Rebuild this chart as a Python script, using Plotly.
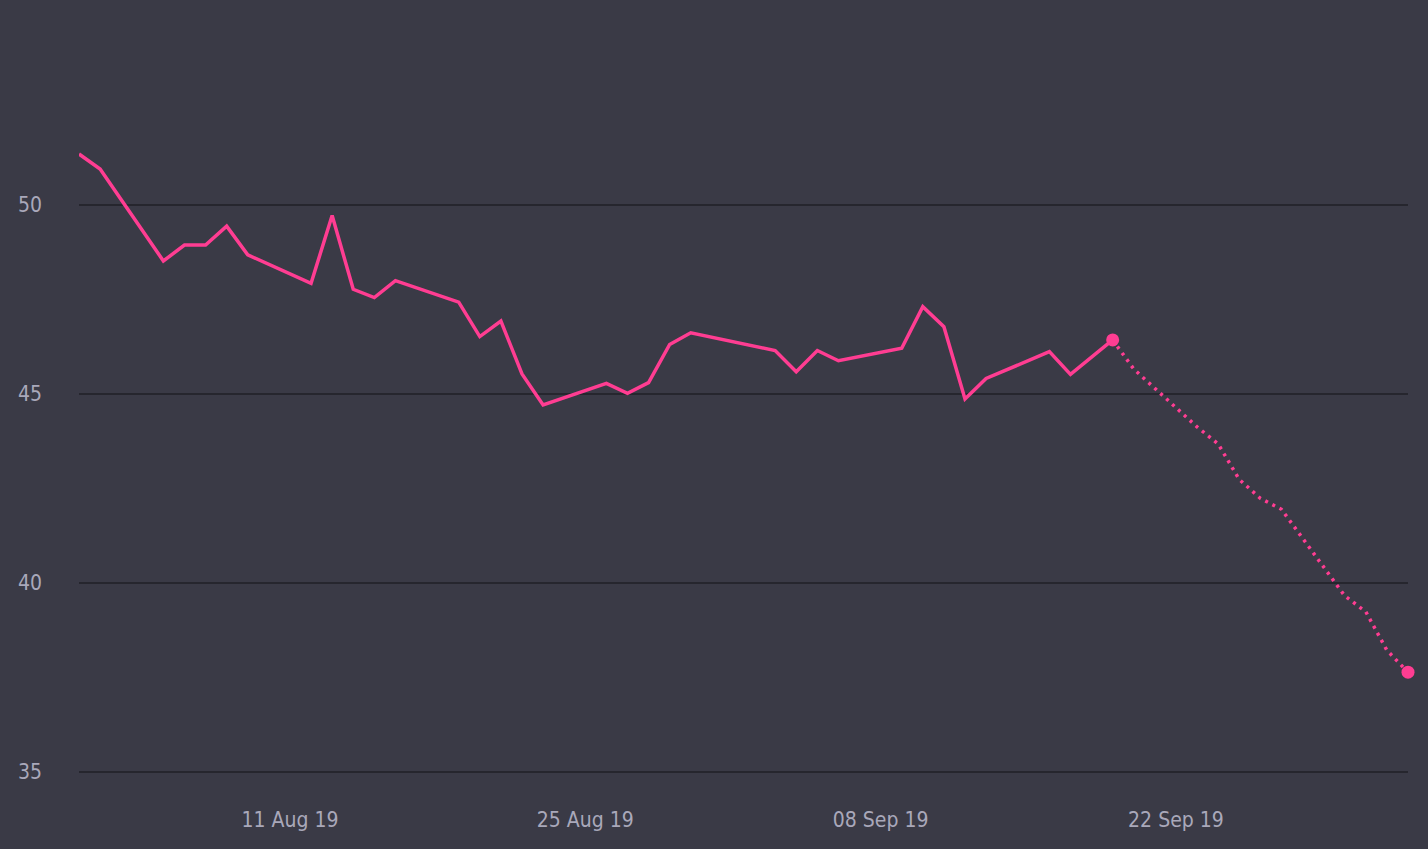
import plotly.graph_objects as go

# observed closing values (business days)
dates = [
    "2019-08-01", "2019-08-02", "2019-08-05", "2019-08-06", "2019-08-07",
    "2019-08-08", "2019-08-09", "2019-08-12", "2019-08-13", "2019-08-14",
    "2019-08-15", "2019-08-16", "2019-08-19", "2019-08-20", "2019-08-21",
    "2019-08-22", "2019-08-23", "2019-08-26", "2019-08-27", "2019-08-28",
    "2019-08-29", "2019-08-30", "2019-09-03", "2019-09-04", "2019-09-05",
    "2019-09-06", "2019-09-09", "2019-09-10", "2019-09-11", "2019-09-12",
    "2019-09-13", "2019-09-16", "2019-09-17", "2019-09-19",
]
values = [
    51.35, 50.95, 48.52, 48.94, 48.94,
    49.44, 48.68, 47.93, 49.72, 47.77,
    47.55, 48.00, 47.43, 46.52, 46.93,
    45.53, 44.71, 45.28, 45.02, 45.30,
    46.31, 46.62, 46.15, 45.59, 46.15,
    45.88, 46.21, 47.31, 46.78, 44.87,
    45.41, 46.12, 45.52, 46.43,
]

# forecast
forecast_dates = [
    "2019-09-19", "2019-09-20", "2019-09-23", "2019-09-24", "2019-09-25",
    "2019-09-26", "2019-09-27", "2019-09-30", "2019-10-01", "2019-10-02",
    "2019-10-03",
]
forecast_values = [
    46.43, 45.66, 44.13, 43.68, 42.74,
    42.24, 41.95, 39.66, 39.24, 38.22,
    37.64,
]

pink = "#ff3d92"
bg = "#3a3a46"
grid = "#26262e"
text = "#a9a8ba"
font_family = "DejaVu Sans Condensed, Roboto, sans-serif"

fig = go.Figure()
fig.add_scatter(
    x=dates, y=values, mode="lines",
    line=dict(color=pink, width=3.5), showlegend=False,
)
fig.add_scatter(
    x=forecast_dates, y=forecast_values, mode="lines",
    line=dict(color=pink, width=3.5, dash="3px,5px"), showlegend=False,
)
fig.add_scatter(
    x=[forecast_dates[0], forecast_dates[-1]],
    y=[forecast_values[0], forecast_values[-1]],
    mode="markers", marker=dict(color=pink, size=13), showlegend=False,
    cliponaxis=False,
)

fig.update_layout(
    width=1428, height=849,
    paper_bgcolor=bg, plot_bgcolor=bg,
    margin=dict(l=79, r=20, t=10, b=59),
    font=dict(family=font_family, color=text, size=21),
    xaxis=dict(
        type="date",
        range=["2019-08-01", "2019-10-03"],
        tick0="2019-08-11", dtick=14 * 86400000,
        tickformat="%d %b %y",
        showgrid=False, zeroline=False, showline=False,
        ticks="outside", ticklen=11, tickcolor=bg,
    ),
    yaxis=dict(
        range=[34.524, 55.159],
        tickvals=[35, 40, 45, 50],
        showgrid=True, gridcolor=grid, gridwidth=2,
        zeroline=False, showline=False,
        ticklabelstandoff=36,
    ),
)

fig.write_html(
    "out.html",
    config={"displayModeBar": False},
    post_script="document.body.style.margin='0';",
)
